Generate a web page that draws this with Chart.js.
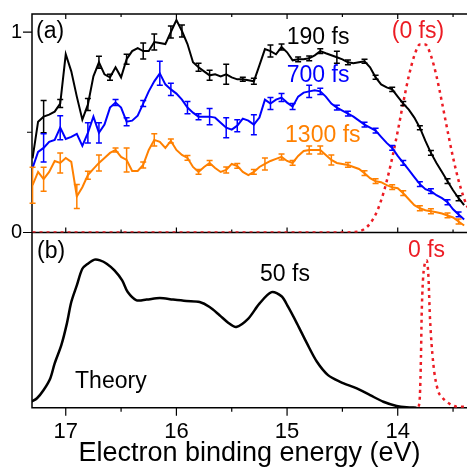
<!DOCTYPE html>
<html>
<head>
<meta charset="utf-8">
<script src="https://cdn.jsdelivr.net/npm/chart.js@4/dist/chart.umd.min.js"></script>
<style>
  html, body { margin: 0; padding: 0; background: #fff; }
  #wrap { width: 467px; height: 468px; position: relative; }
</style>
</head>
<body>
<div id="wrap"><canvas id="chart"></canvas></div>
<script>
// binding energy grid of the measured spectra (eV)
const energies = [17.30,17.25,17.20,17.15,17.10,17.05,17.00,16.95,16.90,16.85,
  16.80,16.75,16.70,16.65,16.60,16.55,16.50,16.45,16.40,16.35,
  16.30,16.25,16.20,16.15,16.10,16.05,16.00,15.95,15.90,15.85,
  15.80,15.75,15.70,15.65,15.60,15.55,15.50,15.45,15.40,15.35,
  15.30,15.25,15.20,15.15,15.10,15.05,15.00,14.95,14.90,14.85,
  14.80,14.75,14.70,14.65,14.60,14.55,14.50,14.45,14.40,14.35,
  14.30,14.25,14.20,14.15,14.10,14.05,14.00,13.95,13.90,13.85,
  13.80,13.75,13.70,13.65,13.60,13.55,13.50,13.45,13.40];

// (a) 190 fs
const fs190 = [0.370,0.553,0.578,0.588,0.603,0.643,0.889,0.804,0.678,0.563,
  0.638,0.779,0.849,0.789,0.774,0.824,0.774,0.864,0.905,0.920,
  0.905,0.905,0.950,0.945,0.940,1.000,1.060,1.005,0.940,0.849,
  0.824,0.804,0.784,0.789,0.779,0.789,0.774,0.764,0.764,0.759,
  0.754,0.834,0.915,0.905,0.889,0.925,0.899,0.859,0.864,0.864,
  0.869,0.884,0.905,0.894,0.884,0.874,0.864,0.849,0.844,0.849,
  0.854,0.824,0.774,0.739,0.724,0.714,0.678,0.643,0.613,0.573,
  0.523,0.457,0.397,0.347,0.302,0.256,0.211,0.171,0.136];
const fs190Err = [0,0,.08,0,0,.02,0,0,0,0,
  .03,0,.03,0,.015,0,0,.025,0,0,
  .04,0,.04,0,0,.03,0,.03,0,0,
  .02,0,.025,0,0,.05,0,0,.01,0,
  .015,0,0,.03,0,.015,0,0,.012,0,
  .012,0,.012,0,0,.03,0,.012,0,0,
  .01,0,.01,0,0,.01,0,.01,0,0,
  .01,0,.012,0,0,.012,0,.012,0];

// (a) 700 fs
const fs700 = [0.322,0.402,0.422,0.452,0.462,0.523,0.467,0.477,0.492,0.432,
  0.497,0.578,0.497,0.538,0.623,0.648,0.623,0.553,0.558,0.583,
  0.643,0.704,0.754,0.794,0.739,0.714,0.693,0.663,0.623,0.598,
  0.578,0.578,0.578,0.573,0.548,0.523,0.513,0.533,0.568,0.558,
  0.538,0.573,0.663,0.643,0.663,0.673,0.648,0.628,0.678,0.698,
  0.704,0.709,0.704,0.678,0.643,0.623,0.608,0.593,0.578,0.558,
  0.538,0.523,0.508,0.477,0.447,0.422,0.382,0.347,0.312,0.276,
  0.241,0.216,0.206,0.186,0.171,0.151,0.116,0.090,0.065];
const fs700Err = [0,0,.07,0,0,.06,0,0,0,0,
  .05,0,.05,0,0,.015,0,.02,0,0,
  .015,0,0,.06,0,.03,0,0,.03,0,
  .015,0,.04,0,0,.05,0,.03,0,0,
  .05,0,0,.03,0,.02,0,.015,0,0,
  .03,0,.015,0,0,.012,0,.012,0,0,
  .012,0,.012,0,0,.012,0,.012,0,0,
  .012,0,.012,0,0,.012,0,.012,0];

// (a) 1300 fs
const fs1300 = [0.236,0.302,0.266,0.302,0.357,0.347,0.372,0.352,0.180,0.226,
  0.286,0.317,0.347,0.372,0.397,0.412,0.377,0.362,0.307,0.307,
  0.337,0.412,0.462,0.452,0.422,0.457,0.412,0.387,0.372,0.327,
  0.302,0.327,0.347,0.322,0.302,0.312,0.342,0.332,0.302,0.286,
  0.302,0.327,0.342,0.357,0.367,0.377,0.357,0.347,0.382,0.407,
  0.412,0.412,0.412,0.387,0.362,0.347,0.342,0.337,0.327,0.317,
  0.296,0.271,0.256,0.251,0.236,0.226,0.221,0.196,0.166,0.136,
  0.121,0.111,0.106,0.101,0.095,0.085,0.075,0.055,0.035];
const fs1300Err = [.09,0,.06,0,0,.05,0,0,.06,0,
  .02,0,.04,0,0,.01,0,.06,0,0,
  .015,0,.03,0,0,.01,0,0,.012,0,
  .012,0,.012,0,0,.015,0,.012,0,0,
  .012,0,.03,0,0,.015,0,.012,0,0,
  .02,0,.02,0,.025,0,0,.012,0,0,
  .012,0,.012,0,0,.012,0,.012,0,0,
  .012,0,.012,0,0,.012,0,.012,0];

// (a) pump-probe cross correlation, (0 fs)
const zeroAE = [17.30,14.50,14.40,14.35,14.30,14.25,14.20,14.15,14.10,14.05,14.00,13.95,
  13.90,13.85,13.80,13.75,13.70,13.65,13.60,13.55,13.50,13.45,13.40,13.37];
const zeroAV = [0,0,0.002,0.005,0.018,0.045,0.09,0.16,0.255,0.372,0.505,0.648,
  0.78,0.882,0.938,0.938,0.882,0.781,0.649,0.508,0.374,0.259,0.169,0.126];

// (b) theory, 50 fs
const theoryE = [17.31,17.26,17.20,17.14,17.10,17.04,16.99,16.95,16.90,16.85,
  16.80,16.74,16.69,16.63,16.56,16.49,16.44,16.36,16.27,16.15,
  16.03,15.91,15.79,15.70,15.61,15.53,15.46,15.35,15.25,15.14,
  15.05,14.99,14.91,14.82,14.73,14.63,14.52,14.37,14.25,14.13,
  14.01,13.92,13.83];
const theoryV = [0.034,0.054,0.101,0.167,0.253,0.357,0.480,0.603,0.698,0.793,
  0.822,0.845,0.841,0.822,0.784,0.727,0.660,0.613,0.617,0.626,
  0.617,0.609,0.603,0.575,0.528,0.484,0.461,0.509,0.594,0.660,
  0.636,0.575,0.480,0.367,0.262,0.186,0.148,0.110,0.072,0.034,
  0.010,0.002,0];

// (b) theory at 0 fs
const zeroBE = [13.81,13.80,13.79,13.784,13.772,13.759,13.739,13.723,13.709,13.679,
  13.637,13.60,13.558,13.51,13.468,13.375];
const zeroBV = [0.006,0.063,0.29,0.518,0.727,0.81,0.841,0.755,0.518,0.254,
  0.10,0.06,0.034,0.015,0.006,0.005];

const BLACK = '#000000', BLUE = '#0000ff', ORANGE = '#ff8000', RED = '#ec1c24';

const xy = (xs, ys) => xs.map((x, i) => ({ x: x, y: ys[i] }));

// text put on the panels, in axis units
const notes = [
  { text: '(a)', e: 17.268, v: 1.0, axis: 'ya', color: BLACK },
  { text: '190 fs', e: 15.003, v: 0.973, axis: 'ya', color: BLACK },
  { text: '700 fs', e: 15.003, v: 0.78, axis: 'ya', color: BLUE },
  { text: '1300 fs', e: 15.018, v: 0.481, axis: 'ya', color: ORANGE },
  { text: '(0 fs)', e: 14.054, v: 1.0, axis: 'ya', color: RED },
  { text: '(b)', e: 17.259, v: 0.889, axis: 'yb', color: BLACK },
  { text: '50 fs', e: 15.244, v: 0.758, axis: 'yb', color: BLACK },
  { text: '0 fs', e: 13.907, v: 0.896, axis: 'yb', color: RED },
  { text: 'Theory', e: 16.916, v: 0.147, axis: 'yb', color: BLACK }
];

const FONT = '"Liberation Sans", Arial, sans-serif';
Chart.defaults.font.family = FONT;
Chart.defaults.color = '#000';

// box around both panels plus the tick marks
const framePlugin = {
  id: 'frame',
  beforeDatasetsDraw(chart) {
    const { ctx, chartArea } = chart;
    const x = chart.scales.x, ya = chart.scales.ya;
    ctx.save();
    ctx.strokeStyle = '#000';
    ctx.lineWidth = 1.5;
    ctx.beginPath();
    ctx.moveTo(chartArea.right + 2, chartArea.top);
    ctx.lineTo(chartArea.left, chartArea.top);
    ctx.lineTo(chartArea.left, chartArea.bottom);
    ctx.lineTo(chartArea.right + 2, chartArea.bottom);
    ctx.moveTo(chartArea.left, ya.bottom);
    ctx.lineTo(chartArea.right + 2, ya.bottom);
    ctx.stroke();
    ctx.lineWidth = 1.2;
    ctx.beginPath();
    x.ticks.forEach(t => {
      const px = x.getPixelForValue(t.value);
      if (px < chartArea.left || px > chartArea.right) return;
      const major = Number.isInteger(t.value);
      const out = major ? 8 : 4, inn = major ? 5 : 3;
      ctx.moveTo(px, chartArea.bottom); ctx.lineTo(px, chartArea.bottom + out);
      ctx.moveTo(px, chartArea.top); ctx.lineTo(px, chartArea.top + inn);
      ctx.moveTo(px, ya.bottom); ctx.lineTo(px, ya.bottom - inn);
    });
    ya.ticks.forEach(t => {
      const py = ya.getPixelForValue(t.value);
      const len = Number.isInteger(t.value) ? 9 : 5;
      ctx.moveTo(chartArea.left, py); ctx.lineTo(chartArea.left - len, py);
    });
    ctx.stroke();
    ctx.restore();
  }
};

const errorBarPlugin = {
  id: 'errorBars',
  afterDatasetsDraw(chart) {
    const ctx = chart.ctx;
    chart.data.datasets.forEach((ds, i) => {
      if (!ds.errors) return;
      const meta = chart.getDatasetMeta(i);
      const ys = chart.scales[ds.yAxisID];
      ctx.save();
      ctx.strokeStyle = ds.borderColor;
      ctx.lineWidth = 1.5;
      ctx.beginPath();
      ds.errors.forEach((e, j) => {
        if (!e) return;
        const px = meta.data[j].x;
        const v = ds.data[j].y;
        const top = ys.getPixelForValue(v + e), bot = ys.getPixelForValue(v - e);
        ctx.moveTo(px, top); ctx.lineTo(px, bot);
        ctx.moveTo(px - 3, top); ctx.lineTo(px + 3, top);
        ctx.moveTo(px - 3, bot); ctx.lineTo(px + 3, bot);
      });
      ctx.stroke();
      ctx.restore();
    });
  }
};

const notesPlugin = {
  id: 'notes',
  afterDraw(chart) {
    const ctx = chart.ctx;
    ctx.save();
    ctx.font = '23px ' + FONT;
    ctx.textAlign = 'left';
    ctx.textBaseline = 'middle';
    notes.forEach(n => {
      ctx.fillStyle = n.color;
      ctx.fillText(n.text, chart.scales.x.getPixelForValue(n.e), chart.scales[n.axis].getPixelForValue(n.v));
    });
    ctx.restore();
  }
};

const line = (label, data, color, axis, extra) => Object.assign({
  label: label, data: data, borderColor: color, backgroundColor: color,
  yAxisID: axis, borderWidth: 2, pointRadius: 0, tension: 0, fill: false
}, extra || {});

// no extra room for the end labels, the frame is set by hand
const noPad = s => { s.paddingTop = 0; s.paddingBottom = 0; s.paddingLeft = 0; s.paddingRight = 0; };

new Chart(document.getElementById('chart'), {
  type: 'line',
  data: {
    datasets: [
      line('190 fs', xy(energies, fs190), BLACK, 'ya', { errors: fs190Err }),
      line('700 fs', xy(energies, fs700), BLUE, 'ya', { errors: fs700Err }),
      line('1300 fs', xy(energies, fs1300), ORANGE, 'ya', { errors: fs1300Err }),
      line('(0 fs)', xy(zeroAE, zeroAV), RED, 'ya', { borderWidth: 2.5, borderDash: [3, 4], cubicInterpolationMode: 'monotone' }),
      line('Theory 50 fs', xy(theoryE, theoryV), BLACK, 'yb', { borderWidth: 2.5, tension: 0.3 }),
      line('Theory 0 fs', xy(zeroBE, zeroBV), RED, 'yb', { borderWidth: 2.5, borderDash: [3, 4], cubicInterpolationMode: 'monotone' })
    ]
  },
  options: {
    responsive: true,
    maintainAspectRatio: false,
    animation: false,
    layout: { padding: { top: 14, right: 0, left: 0, bottom: 0 } },
    plugins: { legend: { display: false }, tooltip: { enabled: false } },
    scales: {
      x: {
        type: 'linear', reverse: true, min: 13.374, max: 17.305,
        grid: { display: false, drawTicks: false }, border: { display: false },
        ticks: {
          stepSize: 0.5, includeBounds: false, autoSkip: false, maxRotation: 0, padding: 11,
          font: { size: 22 },
          callback: v => Number.isInteger(v) ? String(v) : ''
        },
        title: { display: true, text: 'Electron binding energy (eV)', font: { size: 27, lineHeight: 1.05 }, padding: 0 },
        afterFit: s => { s.height = 60.3; noPad(s); }
      },
      yb: {
        type: 'linear', position: 'left', stack: 'panels', stackWeight: 175.2,
        min: 0, max: 1,
        grid: { display: false, drawTicks: false }, border: { display: false },
        ticks: { display: false },
        afterFit: s => { s.width = 32; noPad(s); }
      },
      ya: {
        type: 'linear', position: 'left', stack: 'panels', stackWeight: 218.5,
        min: 0, max: 1.09,
        grid: { display: false, drawTicks: false }, border: { display: false },
        ticks: {
          stepSize: 0.5, includeBounds: false, padding: 10, font: { size: 20 },
          callback: v => Number.isInteger(v) ? String(v) : ''
        },
        afterFit: s => { s.width = 32; noPad(s); }
      }
    }
  },
  plugins: [framePlugin, errorBarPlugin, notesPlugin]
});
</script>
</body>
</html>
